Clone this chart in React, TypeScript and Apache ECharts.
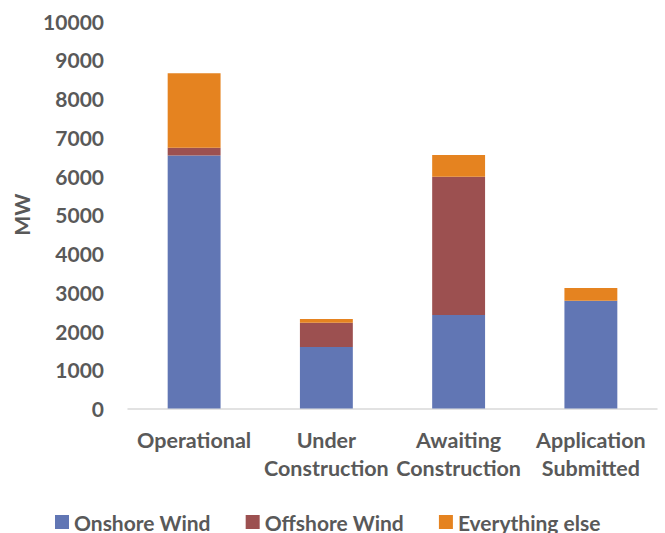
import React, { useEffect, useRef } from "react";
import * as echarts from "echarts";

const categories = ["Operational", "Under\nConstruction", "Awaiting\nConstruction", "Application\nSubmitted"];
const onshoreWind = [6530, 1590, 2410, 2780];
const offshoreWind = [200, 620, 3570, 0];
const everythingElse = [1920, 100, 560, 330];
const yTicks = { min: 0, max: 10000, interval: 1000 };

const FONT = "Lato";
const TEXT = "#595959";

export default function App() {
  const ref = useRef<HTMLDivElement>(null);
  useEffect(() => {
    if (!ref.current) return;
    const chart = echarts.init(ref.current, undefined, { renderer: "svg" });
    const barStyle = (color: string) => ({ color });
    chart.setOption({
      animation: false,
      textStyle: { fontFamily: FONT },
      grid: { left: 128, right: 8, top: 21, bottom: 124.5, containLabel: false },
      legend: {
        left: 50,
        top: 505,
        itemWidth: 14,
        itemHeight: 14,
        itemGap: 35,
        icon: "rect",
        textStyle: { fontFamily: FONT, fontSize: 21, fontWeight: "bold", color: TEXT, lineHeight: 24 },
        data: ["Onshore Wind", "Offshore Wind", "Everything else"],
      },
      xAxis: {
        type: "category",
        data: categories,
        axisLine: { show: true, lineStyle: { color: "#d9d9d9", width: 1.5 } },
        axisTick: { show: false },
        axisLabel: {
          interval: 0,
          margin: 17,
          fontFamily: FONT,
          fontSize: 21.5,
          fontWeight: "bold",
          color: TEXT,
          lineHeight: 28.5,
        },
      },
      yAxis: {
        type: "value",
        min: yTicks.min,
        max: yTicks.max,
        interval: yTicks.interval,
        name: "MW",
        nameLocation: "middle",
        nameGap: 95,
        nameTextStyle: { fontFamily: FONT, fontSize: 21, fontWeight: "bold", color: TEXT },
        axisLine: { show: false },
        axisTick: { show: false },
        splitLine: { show: false },
        axisLabel: {
          margin: 24,
          fontFamily: FONT,
          fontSize: 21,
          fontWeight: "bold",
          color: TEXT,
          formatter: (v: number) => String(v),
        },
      },
      series: [
        { name: "Onshore Wind", type: "bar", stack: "total", barWidth: "40%", data: onshoreWind, itemStyle: barStyle("#6176b4") },
        { name: "Offshore Wind", type: "bar", stack: "total", barWidth: "40%", data: offshoreWind, itemStyle: barStyle("#9c5050") },
        { name: "Everything else", type: "bar", stack: "total", barWidth: "40%", data: everythingElse, itemStyle: barStyle("#e58320") },
      ],
    });
    return () => chart.dispose();
  }, []);
  return <div ref={ref} style={{ position: "fixed", left: 0, top: 0, width: 665, height: 533, background: "#fff" }} />;
}
